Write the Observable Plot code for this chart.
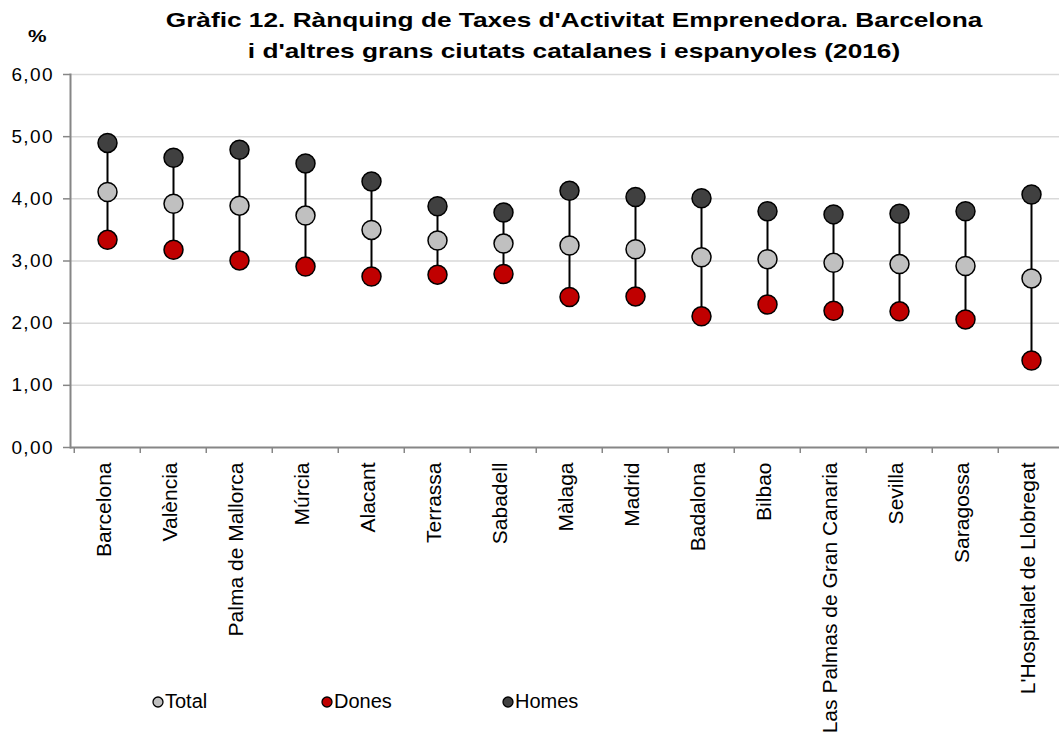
<!DOCTYPE html>
<html>
<head>
<meta charset="utf-8">
<script src="https://cdn.jsdelivr.net/npm/d3@7"></script>
<script src="https://cdn.jsdelivr.net/npm/@observablehq/plot@0.6"></script>
<style>
  html, body { margin: 0; padding: 0; background: #fff; overflow: hidden; }
  body { width: 1059px; height: 736px; position: relative; font-family: "Liberation Sans", Arial, sans-serif; }
  #chart { position: absolute; left: 0; top: 0; }
  #title { position: absolute; left: 0; width: 1148px; top: 4px; text-align: center; font-weight: bold; font-size: 20.5px; line-height: 31px; color: #000; transform: scaleX(1.28); transform-origin: 574px 0; }
  #pct { position: absolute; left: 28px; top: 28px; font-weight: bold; font-size: 16px; transform: scaleX(1.3); transform-origin: 0 0; }
  .leg { position: absolute; top: 690px; font-size: 20px; display: flex; align-items: center; color: #000; }
  .leg svg { margin-right: 1px; }
  #chart g[aria-label="y-axis tick label"] text { letter-spacing: 1.4px; }
</style>
</head>
<body>
<div id="chart"></div>
<div id="title">Gràfic 12. Rànquing de Taxes d'Activitat Emprenedora. Barcelona<br>i d'altres grans ciutats catalanes i espanyoles (2016)</div>
<div id="pct">%</div>
<div id="legend"></div>
<script>
const cities = ["Barcelona", "València", "Palma de Mallorca", "Múrcia", "Alacant", "Terrassa", "Sabadell", "Màlaga", "Madrid", "Badalona", "Bilbao", "Las Palmas de Gran Canaria", "Sevilla", "Saragossa", "L'Hospitalet de Llobregat"];
const total = [4.11, 3.92, 3.89, 3.73, 3.50, 3.33, 3.28, 3.25, 3.19, 3.06, 3.03, 2.97, 2.95, 2.92, 2.72];
const dones = [3.34, 3.18, 3.01, 2.91, 2.75, 2.78, 2.79, 2.42, 2.43, 2.11, 2.30, 2.20, 2.19, 2.06, 1.40];
const homes = [4.90, 4.66, 4.79, 4.57, 4.28, 3.88, 3.78, 4.13, 4.03, 4.01, 3.80, 3.75, 3.76, 3.80, 4.07];
const yTicks = [0, 1, 2, 3, 4, 5, 6];
const seriesNames = ["Total", "Dones", "Homes"];
const seriesColors = ["#c0c0c0", "#c00000", "#404040"];

const data = cities.map((c, i) => ({city: c, total: total[i], dones: dones[i], homes: homes[i]}));

const W = 1059, H = 736;
const mL = 70, mR = -8, mT = 74, mB = 289;
const bandHalf = (W - mR - mL) / cities.length / 2;

const plot = Plot.plot({
  width: W,
  height: H,
  marginLeft: mL,
  marginRight: mR,
  marginTop: mT,
  marginBottom: mB,
  style: {fontFamily: "Liberation Sans, Arial, sans-serif", background: "transparent", overflow: "hidden"},
  x: {type: "band", domain: cities, padding: 0, label: null},
  y: {domain: [0, 6], label: null},
  marks: [
    Plot.ruleY(yTicks.slice(1), {stroke: "#d9d9d9", strokeWidth: 1.5}),
    Plot.axisY({ticks: yTicks, tickSize: 7, tickPadding: 9.5, stroke: "#868686", strokeWidth: 1.5, fill: "#000", fontSize: 19, tickFormat: d => d.toFixed(2).replace(".", ","), label: null}),
    Plot.axisX({tickSize: 6, text: null, dx: -bandHalf, stroke: "#868686", strokeWidth: 1.5, label: null}),
    Plot.axisX({tickSize: 0, tickRotate: -90, tickPadding: 15, dx: -3, fontSize: 21, fill: "#000", label: null}),
    Plot.ruleY([0], {stroke: "#868686", strokeWidth: 2}),
    Plot.frame({anchor: "left", stroke: "#868686", strokeWidth: 2}),
    Plot.ruleX(data, {x: "city", y1: "dones", y2: "homes", stroke: "#000", strokeWidth: 2}),
    Plot.dot(data, {x: "city", y: "total", r: 9.5, fill: seriesColors[0], stroke: "#000", strokeWidth: 1.5}),
    Plot.dot(data, {x: "city", y: "dones", r: 9.5, fill: seriesColors[1], stroke: "#000", strokeWidth: 1.5}),
    Plot.dot(data, {x: "city", y: "homes", r: 9.5, fill: seriesColors[2], stroke: "#000", strokeWidth: 1.5})
  ]
});
document.getElementById("chart").appendChild(plot);

const legLefts = [152, 321, 502];
const legend = document.getElementById("legend");
seriesNames.forEach((name, i) => {
  const d = document.createElement("div");
  d.className = "leg";
  d.style.left = legLefts[i] + "px";
  d.innerHTML = `<svg width="12" height="12"><circle cx="6" cy="6" r="5" fill="${seriesColors[i]}" stroke="#000" stroke-width="1.3"/></svg><span>${name}</span>`;
  legend.appendChild(d);
});
</script>
</body>
</html>
